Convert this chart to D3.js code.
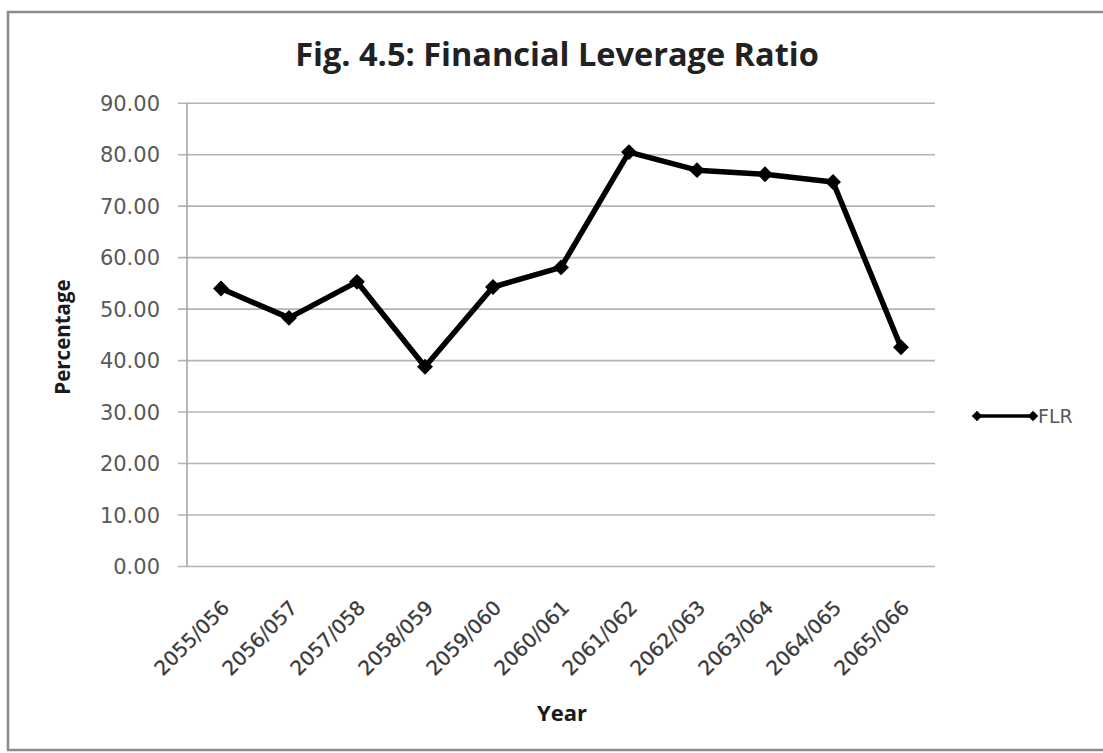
<!DOCTYPE html>
<html>
<head>
<meta charset="utf-8">
<script src="https://cdn.jsdelivr.net/npm/d3@7/dist/d3.min.js"></script>
<style>
  html, body { margin: 0; padding: 0; background: #ffffff; }
  svg { display: block; }
</style>
</head>
<body>
<svg id="chart" width="1103" height="753"></svg>
<script>
// Financial Leverage Ratio by fiscal year
const years = ["2055/056", "2056/057", "2057/058", "2058/059", "2059/060", "2060/061",
               "2061/062", "2062/063", "2063/064", "2064/065", "2065/066"];
const flr = [53.9, 48.2, 55.2, 38.7, 54.2, 58.0, 80.4, 76.9, 76.1, 74.6, 42.5];
const yTicks = [0, 10, 20, 30, 40, 50, 60, 70, 80, 90];
const seriesName = "FLR";

const svg = d3.select("#chart");

// Outer frame
svg.append("rect")
  .attr("x", 8).attr("y", 12)
  .attr("width", 1110).attr("height", 738)
  .attr("fill", "#ffffff")
  .attr("stroke", "#8c8c8c").attr("stroke-width", 2.5);

const plot = { left: 187, right: 935, top: 102.7, bottom: 566 };

const x = d3.scalePoint()
  .domain(years)
  .range([plot.left, plot.right])
  .padding(0.5);

const y = d3.scaleLinear()
  .domain([0, 90])
  .range([plot.bottom, plot.top]);

// Horizontal gridlines (with a short outside tick) and value labels
const yAxis = d3.axisLeft(y)
  .tickValues(yTicks)
  .tickSize(0)
  .tickFormat(d3.format(".2f"));

const gy = svg.append("g")
  .attr("transform", `translate(${plot.left - 9},0)`)
  .call(yAxis);

gy.select(".domain").remove();
gy.selectAll(".tick line")
  .attr("x1", 0)
  .attr("x2", plot.right - plot.left + 9)
  .attr("stroke", "#b4b4b4")
  .attr("stroke-width", 1.6);
gy.selectAll(".tick text")
  .attr("x", -18)
  .attr("dy", "0.36em")
  .attr("font-family", "DejaVu Sans")
  .attr("font-size", 21)
  .attr("fill", "#595959");

// Vertical axis line
svg.append("line")
  .attr("x1", plot.left).attr("x2", plot.left)
  .attr("y1", plot.top).attr("y2", plot.bottom)
  .attr("stroke", "#a6a6a6").attr("stroke-width", 1.6);

// Category labels
const xAxis = d3.axisBottom(x).tickSize(0).tickPadding(0);
const gx = svg.append("g")
  .attr("transform", `translate(0,${plot.bottom})`)
  .call(xAxis);
gx.select(".domain").remove();
gx.selectAll(".tick text")
  .attr("font-family", "DejaVu Sans")
  .attr("font-size", 20)
  .attr("fill", "#3a3a3a")
  .attr("stroke", "#3a3a3a")
  .attr("stroke-width", 0.3)
  .attr("text-anchor", "end")
  .attr("dy", 0)
  .attr("y", 0)
  .attr("transform", "translate(9,43) rotate(-45)");

// Series line
const line = d3.line()
  .x((d, i) => x(years[i]))
  .y(d => y(d));

svg.append("path")
  .datum(flr)
  .attr("d", line)
  .attr("fill", "none")
  .attr("stroke", "#000000")
  .attr("stroke-width", 5.5)
  .attr("stroke-linejoin", "round");

const diamond = d3.symbol().type(d3.symbolDiamond2).size(160);
svg.append("g").selectAll("path")
  .data(flr)
  .join("path")
  .attr("d", diamond)
  .attr("transform", (d, i) => `translate(${x(years[i])},${y(d)})`)
  .attr("fill", "#000000");

// Title
svg.append("text")
  .attr("x", 557).attr("y", 66)
  .attr("text-anchor", "middle")
  .attr("font-family", "Open Sans")
  .attr("font-weight", "bold")
  .attr("font-size", 32.5)
  .attr("fill", "#222222")
  .text("Fig. 4.5: Financial Leverage Ratio");

// Axis titles
svg.append("text")
  .attr("transform", "translate(70,337) rotate(-90)")
  .attr("text-anchor", "middle")
  .attr("font-family", "Open Sans")
  .attr("font-weight", "bold")
  .attr("font-size", 20.5)
  .attr("fill", "#1a1a1a")
  .text("Percentage");

svg.append("text")
  .attr("x", 562).attr("y", 721)
  .attr("text-anchor", "middle")
  .attr("font-family", "Open Sans")
  .attr("font-weight", "bold")
  .attr("font-size", 22)
  .attr("fill", "#1a1a1a")
  .text("Year");

// Legend
const lg = svg.append("g").attr("transform", "translate(977,416)");
lg.append("line")
  .attr("x1", 0).attr("x2", 56)
  .attr("y1", 0).attr("y2", 0)
  .attr("stroke", "#000000").attr("stroke-width", 3.5);
lg.selectAll("path")
  .data([0, 56])
  .join("path")
  .attr("d", d3.symbol().type(d3.symbolDiamond2).size(70))
  .attr("transform", d => `translate(${d},0)`)
  .attr("fill", "#000000");
lg.append("text")
  .attr("x", 61).attr("y", 0)
  .attr("dy", "0.36em")
  .attr("font-family", "DejaVu Sans")
  .attr("font-size", 19)
  .attr("fill", "#595959")
  .text(seriesName);
</script>
</body>
</html>
